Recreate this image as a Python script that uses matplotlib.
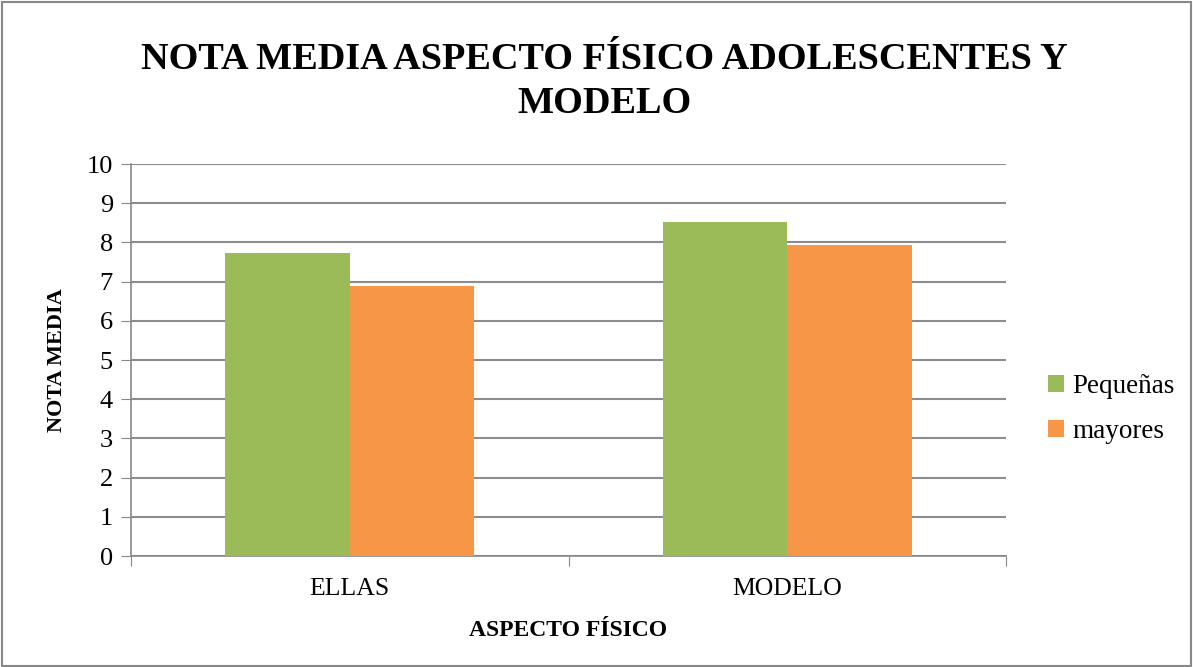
import matplotlib.pyplot as plt
from matplotlib.patches import Rectangle
import numpy as np

categorias = ["ELLAS", "MODELO"]
pequenas = [7.72, 8.51]
mayores = [6.88, 7.93]
series = ["Pequeñas", "mayores"]
colores = ["#9BBB59", "#F79646"]

serif = "Liberation Serif"

fig = plt.figure(figsize=(11.93, 6.67), dpi=100)
ax = fig.add_axes([0.1098, 0.1664, 0.7335, 0.5877])

x = np.array([0.5, 1.5])
w = 0.285
ax.bar(x - w / 2, pequenas, w, color=colores[0], label=series[0], zorder=3)
ax.bar(x + w / 2, mayores, w, color=colores[1], label=series[1], zorder=3)

ax.set_xlim(0, 2)
ax.set_ylim(0, 10)
ax.set_yticks(range(0, 11))
ax.set_xticks([0, 1, 2])
ax.set_xticklabels([])
ax.set_xticks(x, minor=True)
ax.set_xticklabels(categorias, minor=True, fontsize=18.5, family=serif)
ax.tick_params(axis="x", which="minor", length=0, pad=16)
ax.tick_params(axis="x", which="major", length=7, color="#888888", direction="out")
ax.tick_params(axis="y", length=7, color="#888888", direction="out", pad=6)
for lab in ax.get_yticklabels():
    lab.set_family(serif)
    lab.set_fontsize(19)

ax.grid(axis="y", color="#8c8c8c", linewidth=1.5, zorder=0)
for s in ["top", "right"]:
    ax.spines[s].set_visible(False)
ax.spines["left"].set_color("#888888")
ax.spines["bottom"].set_color("#888888")
ax.spines["left"].set_linewidth(1.2)
ax.spines["bottom"].set_linewidth(1.2)

ax.set_ylabel("NOTA MEDIA", fontsize=16, fontweight="bold", family=serif, labelpad=14)
ax.set_xlabel("ASPECTO FÍSICO", fontsize=17, fontweight="bold", family=serif, labelpad=14)

fig.text(0.507, 0.878, "NOTA MEDIA ASPECTO FÍSICO ADOLESCENTES Y\nMODELO",
         ha="center", va="center", fontsize=27.5, fontweight="bold", family=serif,
         linespacing=1.32)

ax.legend(loc="center left", bbox_to_anchor=(1.02, 0.375), frameon=False,
          prop={"family": serif, "size": 19.5}, handlelength=0.6,
          handleheight=0.6, handletextpad=0.3, labelspacing=0.75)

fig.patches.append(Rectangle((0.002, 0.002), 0.996, 0.995, transform=fig.transFigure,
                             fill=False, edgecolor="#888888", linewidth=1.5))

fig.savefig("out.png", dpi=100)
